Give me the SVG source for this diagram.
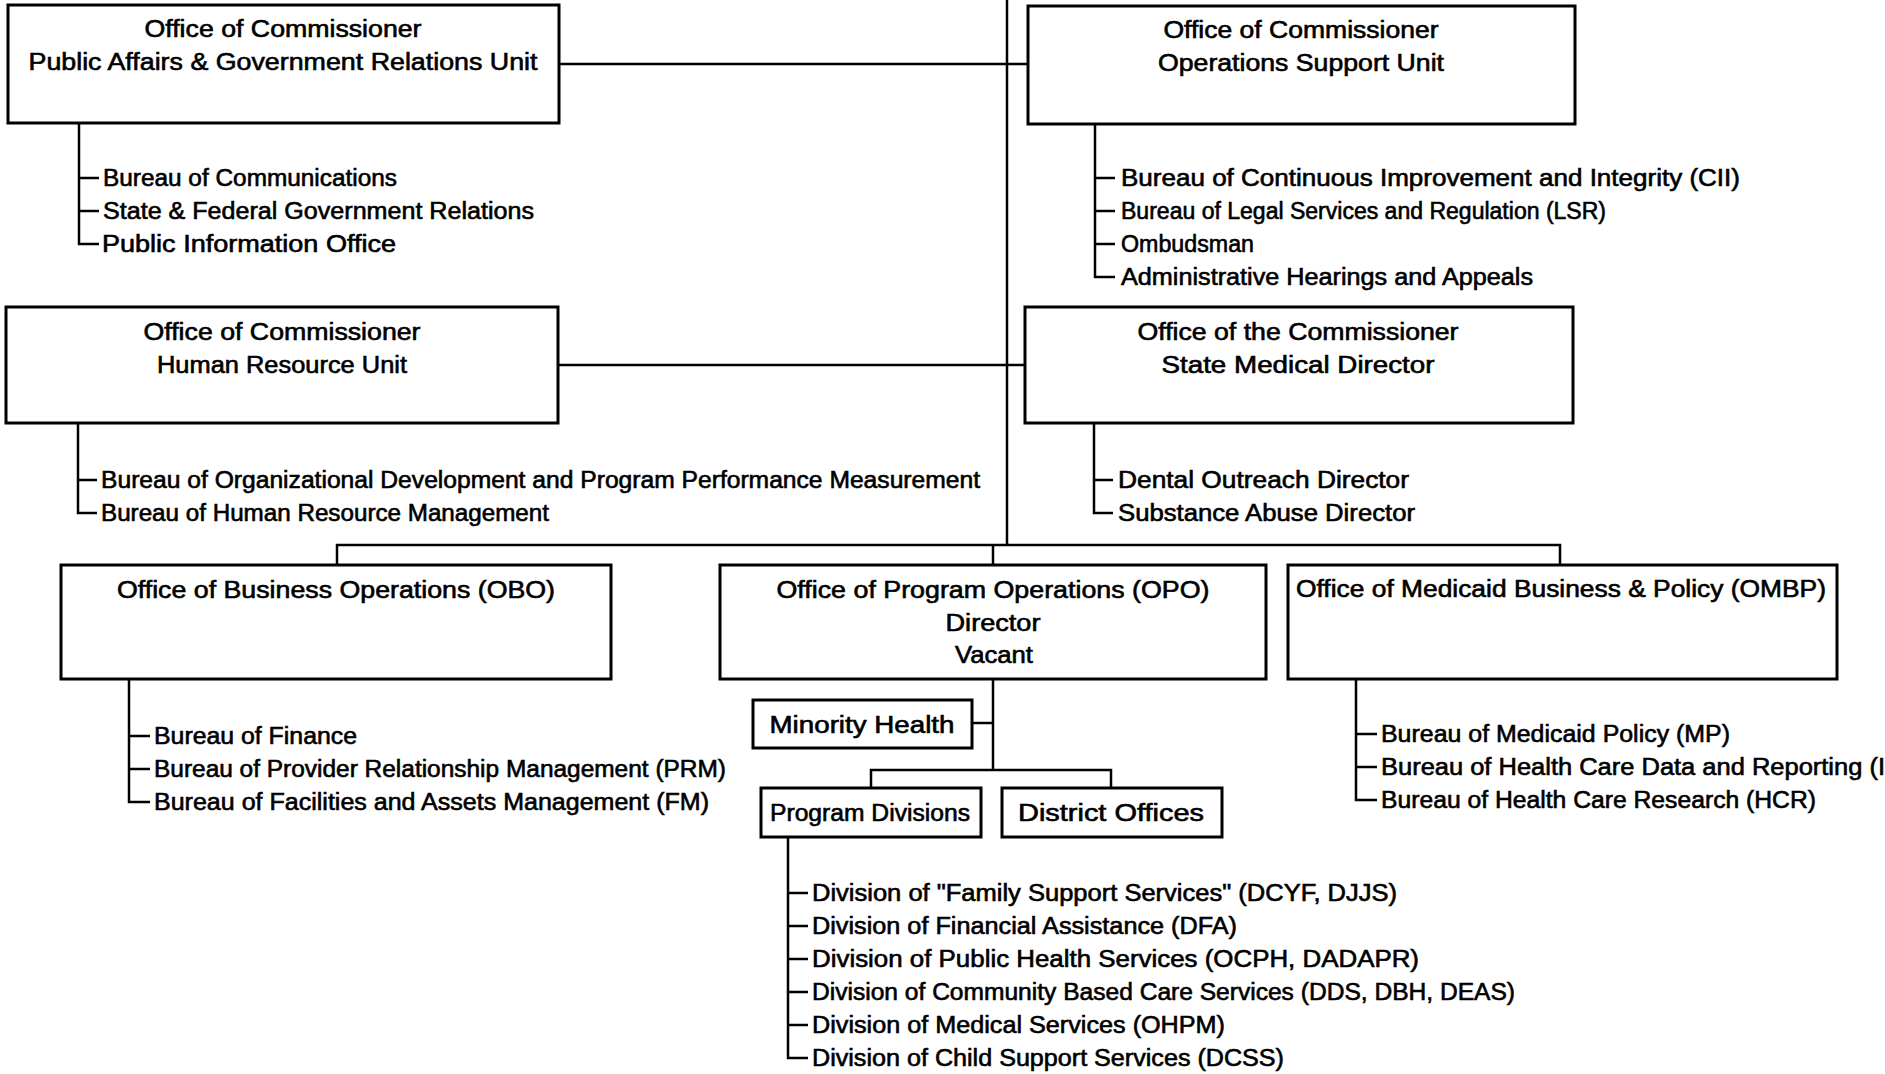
<svg xmlns="http://www.w3.org/2000/svg" width="1885" height="1074" viewBox="0 0 1885 1074">
<style>
.box{fill:#fff;stroke:#000;stroke-width:3}
.ln{fill:none;stroke:#000;stroke-width:2.5}
text{font-family:"Liberation Sans",Arial,sans-serif;font-size:23px;fill:#000;stroke:#000;stroke-width:0.6}
.c{text-anchor:middle}
</style>
<rect width="1885" height="1074" fill="#fff"/>
<g id="connectors">
<path class="ln" d="M1007 0V545"/>
<path class="ln" d="M559 64H1028"/>
<path class="ln" d="M558 365H1025"/>
<path class="ln" d="M337 565V545H1560V565M993 545V565"/>
<path class="ln" d="M993 679V770M973 723H993M871 788V770H1111V788"/>
<path class="ln" d="M79 123V244H99M79 178H99M79 211H99"/>
<path class="ln" d="M1095 124V277H1115M1095 178H1115M1095 211H1115M1095 244H1115"/>
<path class="ln" d="M78 423V513H97M78 480H97"/>
<path class="ln" d="M1094 423V513H1113M1094 480H1113"/>
<path class="ln" d="M129 679V802H150M129 736H150M129 769H150"/>
<path class="ln" d="M1356 678V800H1377M1356 734H1377M1356 767H1377"/>
<path class="ln" d="M788 837V1058H808M788 893H808M788 926H808M788 959H808M788 992H808M788 1025H808"/>
</g>
<g id="pa">
<rect class="box" x="8" y="5" width="551" height="118"/>
<text class="c" x="283" y="37" textLength="277" lengthAdjust="spacingAndGlyphs">Office of Commissioner</text>
<text class="c" x="283" y="70" textLength="509" lengthAdjust="spacingAndGlyphs">Public Affairs &amp; Government Relations Unit</text>
</g>
<g id="pa-items">
<text x="103" y="186" textLength="294" lengthAdjust="spacingAndGlyphs">Bureau of Communications</text>
<text x="103" y="219" textLength="431" lengthAdjust="spacingAndGlyphs">State &amp; Federal Government Relations</text>
<text x="102" y="252" textLength="294" lengthAdjust="spacingAndGlyphs">Public Information Office</text>
</g>
<g id="osu">
<rect class="box" x="1028" y="6" width="547" height="118"/>
<text class="c" x="1301" y="38" textLength="275" lengthAdjust="spacingAndGlyphs">Office of Commissioner</text>
<text class="c" x="1301" y="71" textLength="286" lengthAdjust="spacingAndGlyphs">Operations Support Unit</text>
</g>
<g id="osu-items">
<text x="1121" y="186" textLength="619" lengthAdjust="spacingAndGlyphs">Bureau of Continuous Improvement and Integrity (CII)</text>
<text x="1121" y="219" textLength="485" lengthAdjust="spacingAndGlyphs">Bureau of Legal Services and Regulation (LSR)</text>
<text x="1121" y="252" textLength="133" lengthAdjust="spacingAndGlyphs">Ombudsman</text>
<text x="1121" y="285" textLength="412" lengthAdjust="spacingAndGlyphs">Administrative Hearings and Appeals</text>
</g>
<g id="hr">
<rect class="box" x="6" y="307" width="552" height="116"/>
<text class="c" x="282" y="340" textLength="277" lengthAdjust="spacingAndGlyphs">Office of Commissioner</text>
<text class="c" x="282" y="373" textLength="250" lengthAdjust="spacingAndGlyphs">Human Resource Unit</text>
</g>
<g id="hr-items">
<text x="101" y="488" textLength="879" lengthAdjust="spacingAndGlyphs">Bureau of Organizational Development and Program Performance Measurement</text>
<text x="101" y="521" textLength="448" lengthAdjust="spacingAndGlyphs">Bureau of Human Resource Management</text>
</g>
<g id="smd">
<rect class="box" x="1025" y="307" width="548" height="116"/>
<text class="c" x="1298" y="340" textLength="321" lengthAdjust="spacingAndGlyphs">Office of the Commissioner</text>
<text class="c" x="1298" y="373" textLength="273" lengthAdjust="spacingAndGlyphs">State Medical Director</text>
</g>
<g id="smd-items">
<text x="1118" y="488" textLength="291" lengthAdjust="spacingAndGlyphs">Dental Outreach Director</text>
<text x="1118" y="521" textLength="297" lengthAdjust="spacingAndGlyphs">Substance Abuse Director</text>
</g>
<g id="obo">
<rect class="box" x="61" y="565" width="550" height="114"/>
<text class="c" x="336" y="598" textLength="438" lengthAdjust="spacingAndGlyphs">Office of Business Operations (OBO)</text>
</g>
<g id="obo-items">
<text x="154" y="744" textLength="203" lengthAdjust="spacingAndGlyphs">Bureau of Finance</text>
<text x="154" y="777" textLength="572" lengthAdjust="spacingAndGlyphs">Bureau of Provider Relationship Management (PRM)</text>
<text x="154" y="810" textLength="555" lengthAdjust="spacingAndGlyphs">Bureau of Facilities and Assets Management (FM)</text>
</g>
<g id="opo">
<rect class="box" x="720" y="565" width="546" height="114"/>
<text class="c" x="993" y="598" textLength="433" lengthAdjust="spacingAndGlyphs">Office of Program Operations (OPO)</text>
<text class="c" x="993" y="631" textLength="95" lengthAdjust="spacingAndGlyphs">Director</text>
<text class="c" x="994" y="663" textLength="78" lengthAdjust="spacingAndGlyphs">Vacant</text>
</g>
<g id="ombp">
<rect class="box" x="1288" y="565" width="549" height="114"/>
<text x="1296" y="597" textLength="530" lengthAdjust="spacingAndGlyphs">Office of Medicaid Business &amp; Policy (OMBP)</text>
</g>
<g id="ombp-items">
<text x="1381" y="742" textLength="349" lengthAdjust="spacingAndGlyphs">Bureau of Medicaid Policy (MP)</text>
<text x="1381" y="775" textLength="504" lengthAdjust="spacingAndGlyphs">Bureau of Health Care Data and Reporting (I</text>
<text x="1381" y="808" textLength="435" lengthAdjust="spacingAndGlyphs">Bureau of Health Care Research (HCR)</text>
</g>
<g id="minority">
<rect class="box" x="753" y="700" width="219" height="48"/>
<text class="c" x="862" y="733" textLength="185" lengthAdjust="spacingAndGlyphs">Minority Health</text>
</g>
<g id="progdiv">
<rect class="box" x="761" y="788" width="220" height="49"/>
<text class="c" x="870" y="821" textLength="200" lengthAdjust="spacingAndGlyphs">Program Divisions</text>
</g>
<g id="district">
<rect class="box" x="1002" y="788" width="220" height="49"/>
<text class="c" x="1111" y="821" textLength="186" lengthAdjust="spacingAndGlyphs">District Offices</text>
</g>
<g id="pd-items">
<text x="812" y="901" textLength="585" lengthAdjust="spacingAndGlyphs">Division of "Family Support Services" (DCYF, DJJS)</text>
<text x="812" y="934" textLength="425" lengthAdjust="spacingAndGlyphs">Division of Financial Assistance (DFA)</text>
<text x="812" y="967" textLength="607" lengthAdjust="spacingAndGlyphs">Division of Public Health Services (OCPH, DADAPR)</text>
<text x="812" y="1000" textLength="703" lengthAdjust="spacingAndGlyphs">Division of Community Based Care Services (DDS, DBH, DEAS)</text>
<text x="812" y="1033" textLength="413" lengthAdjust="spacingAndGlyphs">Division of Medical Services (OHPM)</text>
<text x="812" y="1066" textLength="472" lengthAdjust="spacingAndGlyphs">Division of Child Support Services (DCSS)</text>
</g>
</svg>
